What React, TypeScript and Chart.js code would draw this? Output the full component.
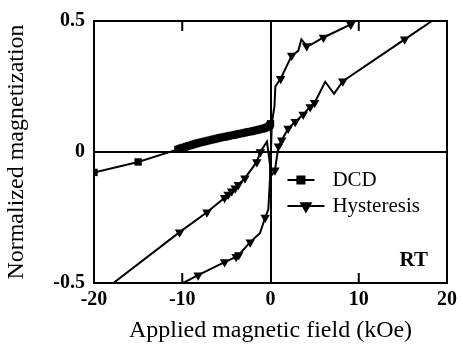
import { useEffect, useRef } from 'react';
import { Chart, registerables } from 'chart.js';
import { drawPoint } from 'chart.js/helpers';

Chart.register(...registerables);

// DC demagnetisation remanence curve (kOe, normalized M)
const dcdField = [
  -20, -15, -10.5, -10.25, -10, -9.75, -9.5, -9.25, -9, -8.75, -8.5, -8.25, -8, -7.75,
  -7.5, -7.25, -7, -6.75, -6.5, -6.25, -6, -5.75, -5.5, -5.25, -5, -4.75, -4.5, -4.25,
  -4, -3.75, -3.5, -3.25, -3, -2.75, -2.5, -2.25, -2, -1.75, -1.5, -1.25, -1, -0.75,
  -0.5, -0.25, -0.1, 0,
];
const dcdMag = [
  -0.078, -0.038, 0.01, 0.013, 0.016, 0.018, 0.021, 0.024, 0.026, 0.029, 0.031, 0.034,
  0.036, 0.038, 0.04, 0.042, 0.044, 0.046, 0.048, 0.05, 0.052, 0.054, 0.056, 0.057,
  0.059, 0.061, 0.063, 0.064, 0.066, 0.068, 0.07, 0.071, 0.073, 0.075, 0.077, 0.078,
  0.08, 0.082, 0.084, 0.086, 0.088, 0.09, 0.093, 0.097, 0.101, 0.108,
];

// Hysteresis loop: ascending branch, a gap (null), then descending branch
const hystField = [
  -17.8, -10.3, -7.2, -5.2, -4.8, -4.4, -4.0, -3.65, -2.9, -1.55, -1.15, -0.4, 0.1, 0.5,
  0.9, 1.27, 2.0, 2.8, 3.7, 4.5, 5.0, 6.2, 7.2, 8.2, 15.2, 18.3,
  null,
  9.6, 9.1, 6.0, 4.6, 4.1, 3.5, 3.15, 2.4, 1.15, 0.55, 0.45, 0.15, 0.05, -0.05, -0.25,
  -0.6, -1.2, -2.3, -3.6, -3.9, -5.2, -8.2, -9.9,
];
const hystMag = [
  -0.5, -0.306, -0.23, -0.175, -0.162, -0.15, -0.138, -0.125, -0.1, -0.038, 0.0, 0.04,
  -0.09, -0.07, 0.022, 0.045, 0.09, 0.115, 0.143, 0.172, 0.188, 0.268, 0.222, 0.27, 0.43,
  0.5,
  null,
  0.5, 0.487, 0.437, 0.41, 0.405, 0.43, 0.386, 0.368, 0.28, 0.25, 0.175, 0.11, 0.0, -0.1,
  -0.22, -0.25, -0.31, -0.344, -0.393, -0.4, -0.42, -0.47, -0.5,
];
// which loop readings carry a marker
const hystMarked = [
  false, true, true, true, true, true, true, true, true, true, true, false, false, true,
  true, true, true, true, true, true, true, false, false, true, true, false,
  false,
  false, true, true, false, true, false, false, true, true, false, false, false, false,
  false, false, true, false, true, true, true, true, true, false,
];

const xTicks = [-20, -10, 0, 10, 20];
const yTicks = [-0.5, 0, 0.5];
const minorXTicks = [-10, 10];
const xTitle = 'Applied magnetic field (kOe)';
const yTitle = 'Normalized magnetization';
const dcdLabel = 'DCD';
const hystLabel = 'Hysteresis';
const tempLabel = 'RT';

const SERIF = '"Liberation Serif", "Times New Roman", serif';
const W = 463;
const H = 347;

const framePlugin = {
  id: 'frameAndKey',
  afterDatasetsDraw(chart: any) {
    const { ctx, chartArea: a, scales } = chart;
    ctx.save();
    ctx.strokeStyle = '#000';
    ctx.lineWidth = 2;
    ctx.strokeRect(a.left, a.top, a.right - a.left, a.bottom - a.top);

    // short inward ticks on top and bottom edges
    ctx.beginPath();
    for (const v of minorXTicks) {
      const x = scales.x.getPixelForValue(v);
      ctx.moveTo(x, a.top);
      ctx.lineTo(x, a.top + 10);
      ctx.moveTo(x, a.bottom);
      ctx.lineTo(x, a.bottom - 10);
    }
    ctx.stroke();

    // key inside the plot area
    const keyX = a.left + (a.right - a.left) * 0.548;
    const rows = [
      { ds: chart.data.datasets[0], y: a.top + 159, len: 27 },
      { ds: chart.data.datasets[1], y: a.top + 185, len: 37 },
    ];
    ctx.font = `21px ${SERIF}`;
    ctx.fillStyle = '#000';
    ctx.textBaseline = 'middle';
    ctx.textAlign = 'left';
    for (const r of rows) {
      ctx.beginPath();
      ctx.lineWidth = 2;
      ctx.moveTo(keyX, r.y);
      ctx.lineTo(keyX + r.len, r.y);
      ctx.stroke();
      ctx.fillStyle = '#000';
      drawPoint(
        ctx,
        { pointStyle: r.ds.pointStyle, rotation: r.ds.pointRotation, radius: r.ds.keyRadius, borderWidth: 1 },
        keyX + r.len / 2,
        r.y,
      );
      ctx.fillText(r.ds.label, keyX + 45, r.y);
    }

    ctx.font = `bold 21px ${SERIF}`;
    ctx.textAlign = 'right';
    ctx.fillText(tempLabel, a.right - 19, a.bottom - 22);
    ctx.restore();
  },
};

export default function App() {
  const ref = useRef<HTMLCanvasElement | null>(null);

  useEffect(() => {
    if (!ref.current) return;
    const dcdData = dcdField.map((x, i) => ({ x, y: dcdMag[i] }));
    const hystData = hystField.map((x, i) => ({ x, y: hystMag[i] }));
    const zeroLine = (c: any) => (c.tick && c.tick.value === 0 ? '#000' : 'rgba(0,0,0,0)');

    const chart = new Chart(ref.current, {
      type: 'line',
      data: {
        datasets: [
          {
            label: dcdLabel,
            data: dcdData,
            borderColor: '#000',
            backgroundColor: '#000',
            borderWidth: 2,
            pointStyle: 'rect',
            pointRadius: 5.2,
            keyRadius: 5,
            pointBorderWidth: 0,
            tension: 0,
          } as any,
          {
            label: hystLabel,
            data: hystData,
            borderColor: '#000',
            backgroundColor: '#000',
            borderWidth: 2,
            pointStyle: 'triangle',
            pointRotation: 180,
            pointRadius: (c: any) => (hystMarked[c.dataIndex] ? 5.5 : 0),
            keyRadius: 5.5,
            pointBorderWidth: 0,
            spanGaps: false,
            tension: 0,
          } as any,
        ],
      },
      options: {
        animation: false,
        responsive: false,
        maintainAspectRatio: false,
        layout: { padding: { top: 14, right: 16, bottom: 0, left: 0 } },
        plugins: { legend: { display: false }, tooltip: { enabled: false } },
        scales: {
          x: {
            type: 'linear',
            min: -20,
            max: 20,
            afterBuildTicks: (s: any) => {
              s.ticks = xTicks.map((v) => ({ value: v }));
            },
            afterFit: (s: any) => {
              s.height = 64;
            },
            border: { display: false },
            grid: { color: zeroLine, lineWidth: 2, drawTicks: false },
            ticks: {
              padding: 5,
              color: '#000',
              font: { family: SERIF, size: 20, weight: 'bold' },
              callback: (v: any) => String(v),
              maxRotation: 0,
            },
            title: {
              display: true,
              text: xTitle,
              color: '#000',
              font: { family: SERIF, size: 24 },
              padding: { top: 0, bottom: 2 },
            },
          },
          y: {
            type: 'linear',
            min: -0.5,
            max: 0.5,
            afterBuildTicks: (s: any) => {
              s.ticks = yTicks.map((v) => ({ value: v }));
            },
            afterFit: (s: any) => {
              s.width = 94;
            },
            border: { display: false },
            grid: { color: zeroLine, lineWidth: 2, drawTicks: false },
            ticks: {
              padding: 9,
              color: '#000',
              font: { family: SERIF, size: 20, weight: 'bold' },
              callback: (v: any) => String(v),
            },
            title: {
              display: true,
              text: yTitle,
              color: '#000',
              font: { family: SERIF, size: 24 },
              padding: { top: 2, bottom: 0 },
            },
          },
        },
      } as any,
      plugins: [framePlugin],
    });
    return () => chart.destroy();
  }, []);

  return (
    <div style={{ position: 'absolute', left: 0, top: 0, width: W, height: H, background: '#fff' }}>
      <canvas ref={ref} width={W} height={H} style={{ width: W, height: H, display: 'block' }} />
    </div>
  );
}
